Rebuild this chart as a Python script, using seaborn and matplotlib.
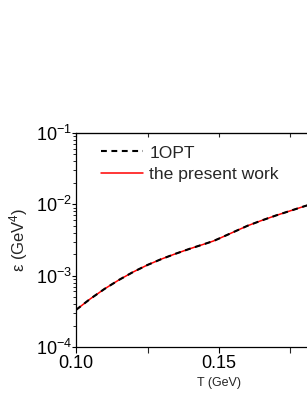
import matplotlib
matplotlib.use('Agg')
import math
import matplotlib.pyplot as plt
import matplotlib.ticker as mticker
import seaborn as sns
import pandas as pd

# temperature (GeV) and energy density (GeV^4)
T_vals = [0.100, 0.105, 0.110, 0.115, 0.120, 0.125, 0.130, 0.135, 0.140,
          0.145, 0.148, 0.150, 0.155, 0.160, 0.165, 0.170, 0.175, 0.180,
          0.185, 0.190]
eps_1opt = [3.311e-4, 4.732e-4, 6.531e-4, 8.710e-4, 1.127e-3, 1.413e-3,
            1.718e-3, 2.042e-3, 2.399e-3, 2.786e-3, 3.055e-3, 3.311e-3,
            4.074e-3, 5.012e-3, 5.957e-3, 6.998e-3, 8.128e-3, 9.441e-3,
            1.084e-2, 1.245e-2]
eps_present = list(eps_1opt)

df = pd.DataFrame({'T': T_vals, '1OPT': eps_1opt, 'present': eps_present})

sns.set_style('ticks')
plt.rcParams['font.family'] = ['Liberation Sans', 'DejaVu Sans']
plt.rcParams['mathtext.fontset'] = 'custom'
plt.rcParams['mathtext.rm'] = 'Liberation Sans'
plt.rcParams['mathtext.it'] = 'Liberation Sans:italic'

fig = plt.figure(figsize=(3.07, 3.97), dpi=100)
ax = fig.add_axes([76 / 307, 1 - 347 / 397, 286 / 307, 214 / 397])

sns.lineplot(data=df, x='T', y='present', ax=ax, color='red', lw=1.1,
             label='the present work')
sns.lineplot(data=df, x='T', y='1OPT', ax=ax, color='black', lw=1.5,
             label='1OPT')
ax.lines[-1].set_linestyle((0, (2.8, 2.2)))

ax.set_yscale('log')
ax.set_xlim(0.10, 0.20)
ax.set_ylim(1e-4, 1e-1)

ax.xaxis.set_major_locator(mticker.FixedLocator([0.10, 0.15]))
ax.xaxis.set_minor_locator(mticker.FixedLocator([0.125, 0.175]))
ax.xaxis.set_major_formatter(mticker.FormatStrFormatter('%.2f'))
ax.yaxis.set_major_locator(mticker.LogLocator(base=10, numticks=10))
ax.yaxis.set_minor_locator(mticker.LogLocator(base=10, subs=range(2, 10), numticks=10))
ax.yaxis.set_major_formatter(mticker.FuncFormatter(
    lambda v, p: r'$\mathregular{10^{%d}}$' % round(math.log10(v))))
ax.yaxis.set_minor_formatter(mticker.NullFormatter())

ax.tick_params(axis='x', which='major', direction='out', length=4, width=0.8,
               labelsize=13, colors='black', pad=1.5)
ax.tick_params(axis='x', which='minor', direction='out', length=4, width=0.8)
ax.tick_params(axis='y', which='major', direction='out', length=3, width=0.8,
               labelsize=13, colors='black', pad=0)
ax.tick_params(axis='y', which='minor', direction='out', length=2.5, width=0.7)

top = ax.secondary_xaxis('top')
top.xaxis.set_major_locator(mticker.FixedLocator([0.10, 0.125, 0.15, 0.175, 0.20]))
top.tick_params(direction='in', length=3, width=0.8, labeltop=False)

for s in ax.spines.values():
    s.set_visible(True)
    s.set_linewidth(0.9)
    s.set_color('black')

ax.set_xlabel('T (GeV)', fontsize=9, labelpad=4)
ax.set_ylabel(r'ε (GeV$^{4}$)', fontsize=12, labelpad=4)

h, l = ax.get_legend_handles_labels()
ax.legend(h[::-1], l[::-1], loc='upper left', frameon=False, fontsize=12.6,
          handlelength=2.4, handletextpad=0.35, labelspacing=0.38,
          borderaxespad=0.3, bbox_to_anchor=(0.045, 1.0))

fig.savefig('out.png', dpi=100)
